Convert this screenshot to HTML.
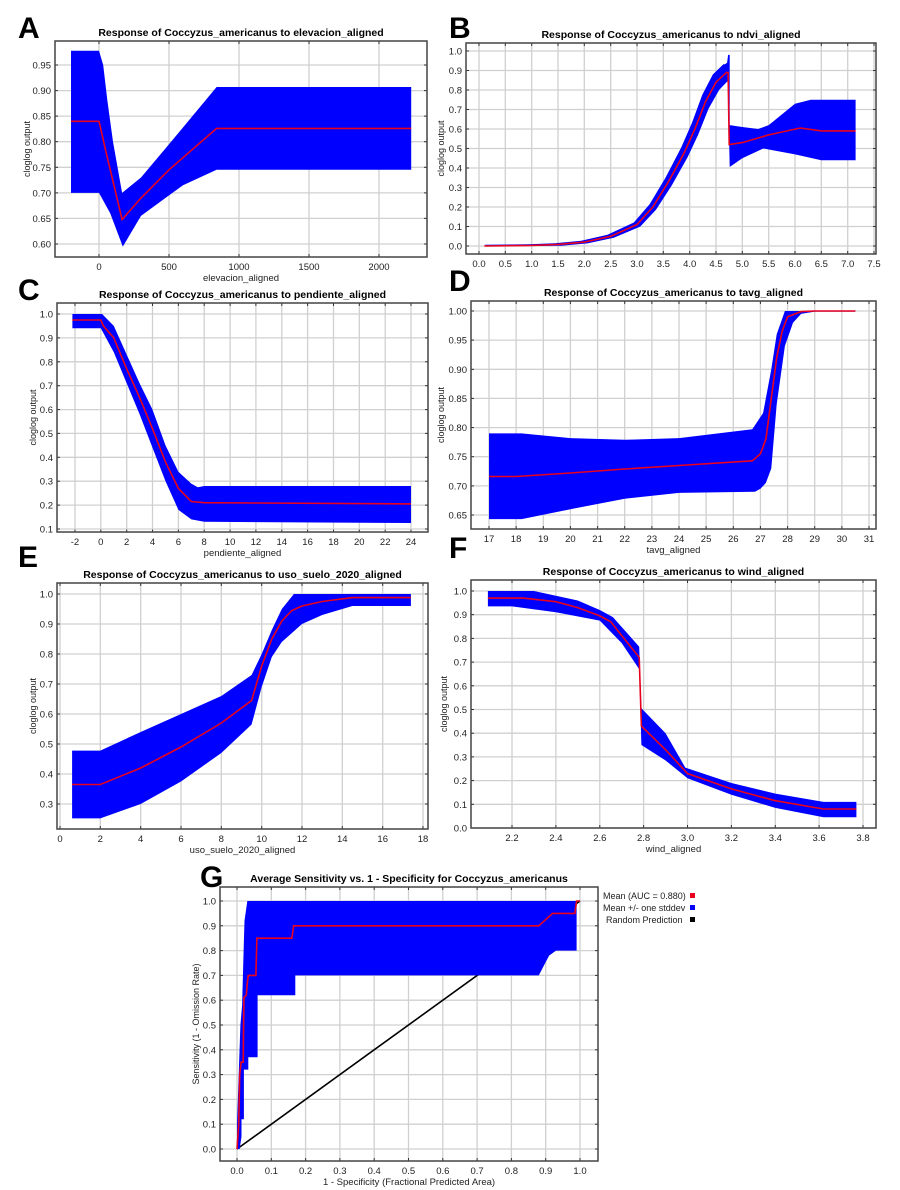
<!DOCTYPE html>
<html><head><meta charset="utf-8"><style>
html,body{margin:0;padding:0;background:#fff;}
svg{display:block;font-family:"Liberation Sans",Arial,sans-serif;}
</style></head><body>
<svg id="s" width="900" height="1190" xmlns="http://www.w3.org/2000/svg"></svg>
<script>
const S=document.getElementById('s');let h='';
function panel(o){
 const X=v=>o.xp[0]+(v-o.xv[0])*(o.xp[1]-o.xp[0])/(o.xv[1]-o.xv[0]);
 const Y=v=>o.yp[0]+(v-o.yv[0])*(o.yp[1]-o.yp[0])/(o.yv[1]-o.yv[0]);
 const [L,T,R,B]=o.box;
 for(const t of o.xt){const x=X(t).toFixed(1);h+=`<line x1="${x}" y1="${T}" x2="${x}" y2="${B}" stroke="#d0d0d0" stroke-width="1.3"/>`;
  h+=`<line x1="${x}" y1="${B}" x2="${x}" y2="${B-3}" stroke="#333"/><line x1="${x}" y1="${T}" x2="${x}" y2="${T+3}" stroke="#333"/>`;
  h+=`<text x="${x}" y="${B+13}" font-size="9.5" fill="#222" text-anchor="middle">${o.xf(t)}</text>`;}
 for(const t of o.yt){const y=Y(t).toFixed(1);h+=`<line x1="${L}" y1="${y}" x2="${R}" y2="${y}" stroke="#d0d0d0" stroke-width="1.3"/>`;
  h+=`<line x1="${L}" y1="${y}" x2="${L+3}" y2="${y}" stroke="#333"/><line x1="${R}" y1="${y}" x2="${R-3}" y2="${y}" stroke="#333"/>`;
  h+=`<text x="${L-4}" y="${+y+3.5}" font-size="9.5" fill="#222" text-anchor="end">${o.yf(t)}</text>`;}
 if(o.pre)o.pre(X,Y);
 const pts=a=>a.map(p=>X(p[0]).toFixed(1)+','+Y(p[1]).toFixed(1)).join(' ');
 h+=`<polygon points="${pts(o.band)}" fill="#0000ff"/>`;
 h+=`<polyline points="${pts(o.mean)}" fill="none" stroke="#e8001c" stroke-width="1.6"/>`;
 h+=`<rect x="${L}" y="${T}" width="${R-L}" height="${B-T}" fill="none" stroke="#444" stroke-width="1.5"/>`;
 h+=`<text x="${(L+R)/2}" y="${T-5}" font-size="10.5" font-weight="bold" text-anchor="middle">${o.title}</text>`;
 h+=`<text x="${(L+R)/2}" y="${B+24}" font-size="9.5" fill="#222" text-anchor="middle">${o.xl}</text>`;
 const cy=(T+B)/2;h+=`<text x="${o.ylx}" y="${cy}" font-size="9" fill="#222" text-anchor="middle" transform="rotate(-90 ${o.ylx} ${cy})">${o.yl}</text>`;
}
const rng=(a,b,s)=>{const r=[];for(let v=a;v<=b+1e-9;v+=s)r.push(+v.toFixed(4));return r;};
const f1=v=>v.toFixed(1),f2=v=>v.toFixed(2),f0=v=>String(v);
const TT='Response of Coccyzus_americanus to ';
panel({box:[55,41,427,257],xv:[0,2000],xp:[99,379],yv:[0.95,0.60],yp:[65,244],xt:[0,500,1000,1500,2000],yt:rng(0.6,0.95,0.05),xf:f0,yf:f2,
title:TT+'elevacion_aligned',xl:'elevacion_aligned',yl:'cloglog output',ylx:30,
band:[[-200,0.978],[0,0.978],[30,0.95],[60,0.88],[100,0.80],[165,0.70],[300,0.73],[500,0.795],[840,0.907],[2230,0.907],[2230,0.745],[840,0.745],[600,0.715],[500,0.695],[300,0.655],[170,0.595],[80,0.66],[0,0.70],[-200,0.70]],
mean:[[-200,0.84],[0,0.84],[50,0.78],[165,0.648],[300,0.69],[500,0.745],[840,0.826],[2230,0.826]]});
(function(){const m=[[0.1,0],[1,0.003],[1.5,0.008],[2,0.02],[2.5,0.05],[3,0.11],[3.3,0.2],[3.6,0.33],[3.9,0.48],[4.1,0.6],[4.3,0.74],[4.5,0.84],[4.7,0.89],[4.73,0.89]];
const up=m.map(p=>[Math.max(0.1,p[0]-0.06),p[1]+0.006+0.04*p[1]]),lo=m.map(p=>[Math.min(4.73,p[0]+0.06),Math.max(0,p[1]-0.006-0.04*p[1])]);
const band=[...up,[4.71,0.94],[4.73,0.98],[4.76,0.98],[4.76,0.62],[5.0,0.61],[5.3,0.60],[5.5,0.62],[6.0,0.73],[6.3,0.75],[7.15,0.75],[7.15,0.44],[6.5,0.44],[6.0,0.47],[5.4,0.50],[5.0,0.45],[4.76,0.405],[4.73,0.78],...lo.reverse()];
panel({box:[466,43,876,254],xv:[0,7.5],xp:[479,874],yv:[1,0],yp:[51,246],xt:rng(0,7.5,0.5),yt:rng(0,1,0.1),xf:f1,yf:f1,
title:TT+'ndvi_aligned',xl:'',yl:'cloglog output',ylx:444,band,
mean:[...m,[4.75,0.52],[5.0,0.53],[5.5,0.57],[6.1,0.605],[6.5,0.59],[7.15,0.59]]});})();
panel({box:[57,303,428,532],xv:[-2,24],xp:[75,411],yv:[1,0.1],yp:[314,529],xt:rng(-2,24,2),yt:rng(0.1,1,0.1),xf:f0,yf:f1,
title:TT+'pendiente_aligned',xl:'pendiente_aligned',yl:'cloglog output',ylx:36,
band:[[-2.2,1.0],[0.1,1.0],[1,0.95],[2,0.83],[3,0.71],[4,0.6],[5,0.45],[6,0.34],[7,0.29],[7.5,0.275],[8,0.28],[24,0.28],[24,0.125],[8,0.13],[7,0.14],[6,0.18],[5,0.3],[4,0.44],[3,0.58],[2,0.71],[1,0.84],[0,0.94],[-2.2,0.94]],
mean:[[-2.2,0.975],[0,0.975],[0.2,0.95],[1,0.9],[2,0.77],[3,0.65],[4,0.52],[5,0.38],[6,0.27],[7,0.215],[8,0.21],[24,0.205]]});
panel({box:[471,301,876,529],xv:[17,31],xp:[489,869],yv:[1,0.65],yp:[311,515],xt:rng(17,31,1),yt:rng(0.65,1,0.05),xf:f0,yf:f2,
title:TT+'tavg_aligned',xl:'tavg_aligned',yl:'cloglog output',ylx:444,
band:[[17,0.79],[18.2,0.79],[20,0.782],[22,0.779],[24,0.782],[26.7,0.797],[27.1,0.825],[27.4,0.9],[27.6,0.96],[27.9,1],[30.5,1],[30.5,0.999],[29,0.999],[28.5,0.995],[28.2,0.98],[27.9,0.94],[27.6,0.84],[27.4,0.73],[27.2,0.705],[27,0.695],[26.8,0.69],[24,0.688],[22,0.678],[20,0.66],[18.2,0.643],[17,0.643]],
mean:[[17,0.716],[18,0.716],[20,0.722],[22,0.729],[24,0.735],[26.7,0.743],[27,0.755],[27.2,0.78],[27.4,0.85],[27.6,0.92],[27.8,0.965],[28,0.99],[28.5,0.999],[29,1],[30.5,1]]});
panel({box:[57,583,428,829],xv:[0,18],xp:[60,423],yv:[1,0.3],yp:[594,804],xt:rng(0,18,2),yt:rng(0.3,1,0.1),xf:f0,yf:f1,
title:TT+'uso_suelo_2020_aligned',xl:'uso_suelo_2020_aligned',yl:'cloglog output',ylx:36,
band:[[0.6,0.478],[2,0.478],[4,0.54],[6,0.6],[8,0.66],[9.5,0.73],[10,0.8],[10.5,0.88],[11,0.95],[11.6,1.0],[17.4,1.0],[17.4,0.96],[14.5,0.96],[13,0.93],[12,0.9],[11,0.84],[10.5,0.79],[10,0.69],[9.5,0.565],[8,0.47],[6,0.375],[4,0.30],[2,0.252],[0.6,0.252]],
mean:[[0.6,0.365],[2,0.365],[4,0.42],[6,0.49],[8,0.57],[9.5,0.645],[10,0.76],[10.5,0.85],[11,0.91],[11.5,0.945],[12,0.96],[13,0.975],[14.5,0.988],[17.4,0.988]]});
panel({box:[471,580,876,828],xv:[2.2,3.8],xp:[512,863],yv:[1,0],yp:[591,828],xt:rng(2.2,3.8,0.2),yt:rng(0,1,0.1),xf:f1,yf:f1,
title:TT+'wind_aligned',xl:'wind_aligned',yl:'cloglog output',ylx:447,
band:[[2.09,1.0],[2.3,1.0],[2.5,0.96],[2.6,0.92],[2.66,0.89],[2.78,0.765],[2.79,0.505],[2.9,0.4],[2.99,0.255],[3.2,0.19],[3.4,0.145],[3.62,0.11],[3.77,0.11],[3.77,0.045],[3.62,0.045],[3.4,0.085],[3.2,0.14],[3.0,0.21],[2.9,0.285],[2.79,0.35],[2.78,0.67],[2.7,0.78],[2.6,0.875],[2.4,0.91],[2.2,0.935],[2.09,0.935]],
mean:[[2.09,0.97],[2.25,0.97],[2.4,0.955],[2.5,0.93],[2.6,0.895],[2.65,0.87],[2.78,0.72],[2.79,0.43],[2.9,0.33],[3.0,0.23],[3.2,0.165],[3.4,0.115],[3.62,0.08],[3.77,0.08]]});
panel({box:[220,887,598,1161],xv:[0,1],xp:[237,580],yv:[1,0],yp:[901,1149],xt:rng(0,1,0.1),yt:rng(0,1,0.1),xf:f1,yf:f1,
title:'Average Sensitivity vs. 1 - Specificity for Coccyzus_americanus',xl:'1 - Specificity (Fractional Predicted Area)',yl:'Sensitivity (1 - Omission Rate)',ylx:199,
pre:(X,Y)=>{h+=`<line x1="${X(0)}" y1="${Y(0)}" x2="${X(1)}" y2="${Y(1)}" stroke="#000" stroke-width="1.6"/>`;},
band:[[0,0],[0,0.1],[0.005,0.3],[0.01,0.5],[0.015,0.58],[0.02,0.84],[0.022,0.92],[0.028,0.98],[0.03,1.0],[0.99,1.0],[0.99,0.8],[0.93,0.8],[0.91,0.78],[0.88,0.7],[0.17,0.7],[0.17,0.62],[0.06,0.62],[0.06,0.37],[0.033,0.37],[0.033,0.32],[0.02,0.32],[0.02,0.12],[0.013,0.12],[0.013,0.05],[0.008,0.0]],
mean:[[0,0],[0.005,0.1],[0.008,0.3],[0.012,0.35],[0.018,0.35],[0.02,0.61],[0.027,0.62],[0.03,0.67],[0.033,0.7],[0.055,0.7],[0.058,0.85],[0.16,0.85],[0.165,0.9],[0.88,0.9],[0.92,0.95],[0.985,0.95],[0.99,1.0],[1.0,1.0]]});
h+=`<text x="603" y="899" font-size="9" fill="#222">Mean (AUC = 0.880)</text><rect x="690" y="893" width="5" height="5" fill="#e8001c"/>`;
h+=`<text x="603" y="911" font-size="9" fill="#222">Mean +/- one stddev</text><rect x="690" y="905" width="5" height="5" fill="#0000ff"/>`;
h+=`<text x="606" y="923" font-size="9" fill="#222">Random Prediction</text><rect x="690" y="917" width="5" height="5" fill="#000"/>`;
const lt=[['A',18,38],['B',449,38],['C',18,300],['D',449,291],['E',18,567],['F',449,558],['G',200,887]];
for(const [c,x,y] of lt)h+=`<text x="${x}" y="${y}" font-size="30" font-weight="bold">${c}</text>`;
S.innerHTML=h;
</script>
</body></html>
